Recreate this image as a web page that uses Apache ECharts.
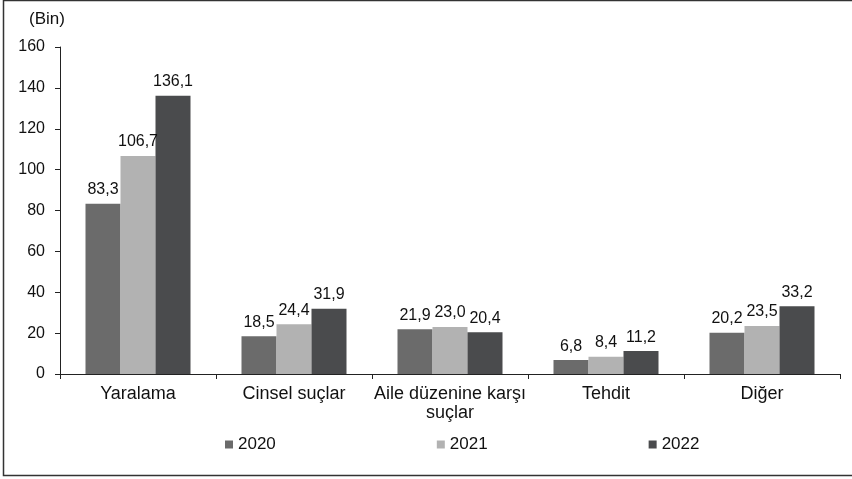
<!DOCTYPE html>
<html><head><meta charset="utf-8">
<script src="https://cdn.jsdelivr.net/npm/echarts@6/dist/echarts.min.js"></script>
<style>html,body{margin:0;padding:0;background:#fff}#c{width:852px;height:479px}</style>
</head><body><div id="c"></div>
<script>
const categories = ['Yaralama', 'Cinsel suçlar', 'Aile düzenine karşı\nsuçlar', 'Tehdit', 'Diğer'];
const years = ['2020', '2021', '2022'];
const v2020 = [83.3, 18.5, 21.9, 6.8, 20.2];
const v2021 = [106.7, 24.4, 23.0, 8.4, 23.5];
const v2022 = [136.1, 31.9, 20.4, 11.2, 33.2];
const yTicks = [0, 20, 40, 60, 80, 100, 120, 140, 160];
const colors = ['#6b6b6b', '#b2b2b2', '#4a4b4d'];
const font = 'Liberation Sans, Arial, sans-serif';

const chart = echarts.init(document.getElementById('c'));
const mk = (name, data, i) => ({
  name, type: 'bar', data, barWidth: 35, barGap: '0%',
  itemStyle: { color: colors[i] },
  label: { show: true, position: 'top', distance: 6, color: '#111', fontSize: 16, fontFamily: font,
    formatter: p => p.value.toFixed(1).replace('.', ',') }
});
chart.setOption({
  animation: false,
  textStyle: { fontFamily: font },
  graphic: [
    { type: 'rect', shape: { x: 3.5, y: 0.5, width: 900, height: 475 }, style: { fill: 'none', stroke: '#333', lineWidth: 1.5 } },
    { type: 'text', left: 29, top: 11, style: { text: '(Bin)', fontSize: 17, fontFamily: font, fill: '#111' } }
  ],
  legend: {
    data: years, top: 431, left: 220, itemWidth: 8, itemHeight: 8, itemGap: 161,
    icon: 'rect', textStyle: { fontSize: 17, color: '#111', fontFamily: font }
  },
  grid: { left: 60, right: 12, top: 47, bottom: 105 },
  xAxis: {
    type: 'category', data: categories,
    axisLine: { lineStyle: { color: '#222', width: 1 } },
    axisTick: { show: true, length: 5, lineStyle: { color: '#222' } },
    axisLabel: { interval: 0, color: '#111', fontSize: 18, fontFamily: font, margin: 11, lineHeight: 19 }
  },
  yAxis: {
    type: 'value', min: 0, max: 160, interval: 20,
    axisLine: { show: true, lineStyle: { color: '#222', width: 1 } },
    axisTick: { show: true, length: 5, lineStyle: { color: '#222' } },
    splitLine: { show: false },
    axisLabel: { color: '#111', fontSize: 16, fontFamily: font, margin: 15,
      formatter: v => yTicks.includes(v) ? String(v) : '' }
  },
  series: [mk(years[0], v2020, 0), mk(years[1], v2021, 1), mk(years[2], v2022, 2)]
});
</script></body></html>
